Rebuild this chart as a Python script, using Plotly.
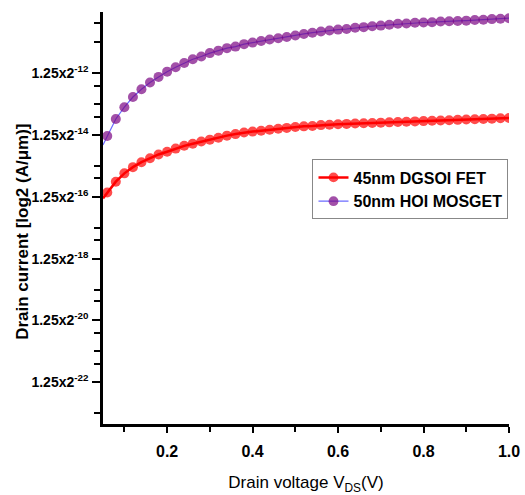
import plotly.graph_objects as go

# Drain voltage (V)
vds = [0.05] + [round(0.06 + 0.02 * i, 2) for i in range(48)]

# log2 exponent of drain current (value shown as 1.25x2^e)
dgsoi_45 = [-16.05, -15.86, -15.51, -15.24, -15.04, -14.88, -14.75, -14.63, -14.54, -14.44,
            -14.35, -14.28, -14.21, -14.15, -14.09, -14.02, -13.97, -13.92, -13.89, -13.86,
            -13.83, -13.80, -13.77, -13.74, -13.72, -13.71, -13.68, -13.67, -13.65, -13.64,
            -13.63, -13.62, -13.61, -13.60, -13.59, -13.58, -13.57, -13.56, -13.55, -13.54,
            -13.53, -13.52, -13.51, -13.50, -13.49, -13.48, -13.47, -13.46, -13.45]
hoi_50 = [-14.32, -14.03, -13.48, -13.10, -12.77, -12.52, -12.30, -12.12, -11.95, -11.81,
          -11.67, -11.55, -11.46, -11.35, -11.27, -11.19, -11.14, -11.06, -11.01, -10.96,
          -10.91, -10.87, -10.83, -10.78, -10.73, -10.69, -10.65, -10.62, -10.59, -10.57,
          -10.53, -10.51, -10.48, -10.46, -10.43, -10.40, -10.39, -10.37, -10.36, -10.35,
          -10.33, -10.32, -10.31, -10.30, -10.28, -10.27, -10.25, -10.24, -10.22]

series_names = ["45nm DGSOI FET", "50nm HOI MOSGET"]

y_major = [-12, -14, -16, -18, -20, -22]
y_major_text = ["1.25x2<sup>%d</sup>" % v for v in y_major]
y_minor = [-10.39, -11.0, -12.41, -13.0, -13.41, -15.0, -15.4, -17.0, -17.4,
           -19.0, -19.37, -20.41, -21.0, -21.4, -23.0]
y_right_ticks = [-12.68, -15.35, -18.02, -20.65]

x_major = [0.2, 0.4, 0.6, 0.8, 1.0]
x_major_text = ["0.2", "0.4", "0.6", "0.8", "1.0"]
x_minor = [0.1, 0.3, 0.5, 0.7, 0.9]

FONT = "Liberation Sans, Arial, sans-serif"

n = len(vds)
sizes = [0] + [10] * (n - 1)

fig = go.Figure()
fig.add_trace(go.Scatter(
    x=vds, y=dgsoi_45, name=series_names[0], mode="lines+markers",
    line=dict(color="#ff0000", width=2.5),
    marker=dict(color="#ff0000", size=sizes, line=dict(width=0)),
))
fig.add_trace(go.Scatter(
    x=vds, y=hoi_50, name=series_names[1], mode="lines+markers",
    line=dict(color="#6b6bff", width=1.2),
    marker=dict(color="#7a0683", size=sizes, line=dict(width=0)),
))

xr = [0.05, 1.0]
yr = [-23.35, -10.02]

fig.update_layout(
    width=525, height=495,
    margin=dict(l=103, r=16, t=12, b=71),
    paper_bgcolor="white", plot_bgcolor="white",
    showlegend=True,
    legend=dict(
        x=0.516, y=0.642, xanchor="left", yanchor="top",
        bordercolor="#888888", borderwidth=1, bgcolor="white",
        font=dict(family=FONT, size=16, color="black", weight="bold"),
        tracegroupgap=2, itemwidth=30,
    ),
    xaxis=dict(
        range=xr, showgrid=False, zeroline=False, automargin=False,
        showline=True, linecolor="black", linewidth=2.5,
        ticks="outside", ticklen=6, tickwidth=2, tickcolor="black",
        tickmode="array", tickvals=x_major, ticktext=x_major_text,
        ticklabelstandoff=5,
        minor=dict(ticks="outside", tickmode="array", tickvals=x_minor,
                   ticklen=5, tickwidth=2, tickcolor="black"),
        tickfont=dict(family=FONT, size=16, color="black", weight="bold"),
        title=dict(text="Drain voltage V<sub>DS</sub>(V)", standoff=18,
                   font=dict(family=FONT, size=17, color="black")),
    ),
    xaxis2=dict(
        range=xr, overlaying="x", side="top", anchor="y", automargin=False,
        showgrid=False, zeroline=False, showticklabels=False,
        showline=True, linecolor="#333333", linewidth=1.3,
        ticks="inside", ticklen=5, tickwidth=1.5, tickcolor="#333333",
        tickmode="array", tickvals=[0.1, 0.2, 0.3, 0.4, 0.5, 0.6, 0.7, 0.8, 0.9],
    ),
    yaxis=dict(
        range=yr, showgrid=False, zeroline=False, automargin=False,
        showline=True, linecolor="black", linewidth=2.5,
        ticks="outside", ticklen=8, tickwidth=2, tickcolor="black",
        tickmode="array", tickvals=y_major, ticktext=y_major_text,
        ticklabelstandoff=1,
        minor=dict(ticks="outside", tickmode="array", tickvals=y_minor,
                   ticklen=6, tickwidth=2, tickcolor="black"),
        tickfont=dict(family=FONT, size=14, color="black", weight="bold"),
    ),
    yaxis2=dict(
        range=yr, overlaying="y", side="right", anchor="x", automargin=False,
        showgrid=False, zeroline=False, showticklabels=False,
        showline=True, linecolor="black", linewidth=2.5,
        ticks="inside", ticklen=6, tickwidth=2, tickcolor="black",
        tickmode="array", tickvals=y_right_ticks,
    ),
    annotations=[dict(
        text="Drain current [log2 (A/\u03bcm)]", textangle=-90,
        xref="paper", yref="paper", x=-0.2, y=0.466,
        xanchor="center", yanchor="middle", showarrow=False,
        font=dict(family=FONT, size=17, color="black", weight="bold"),
    )],
)

fig.write_html("out.html")
